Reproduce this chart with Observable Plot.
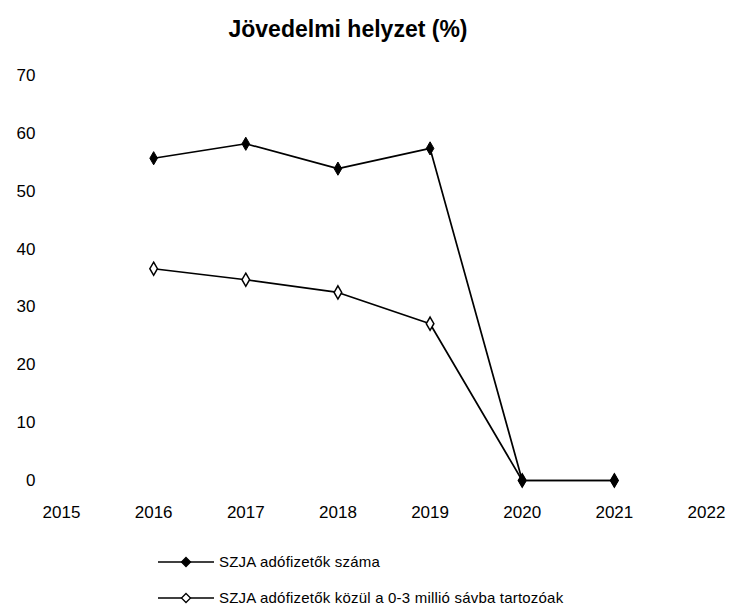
<!DOCTYPE html>
<html><head><meta charset="utf-8">
<script src="https://cdn.jsdelivr.net/npm/d3@7"></script>
<script src="https://cdn.jsdelivr.net/npm/@observablehq/plot@0.6"></script>
<style>
body{margin:0;background:#fff;font-family:"Liberation Sans",Arial,sans-serif;width:732px;height:605px;position:relative;overflow:hidden;color:#000}
#title{position:absolute;top:16px;left:0;width:696px;text-align:center;font-size:23px;font-weight:bold;line-height:26px}
#chart{position:absolute;top:50px;left:0}
.leg{position:absolute;left:158px;display:flex;align-items:center;font-size:15px;letter-spacing:0.2px;white-space:nowrap}
.leg svg{margin-right:5px}
</style></head><body>
<div id="title">Jövedelmi helyzet (%)</div>
<div id="chart"></div>
<div id="legend"></div>
<script>
const years = [2016, 2017, 2018, 2019, 2020, 2021];
const seriesNames = ["SZJA adófizetők száma", "SZJA adófizetők közül a 0-3 millió sávba tartozóak"];
const series1 = [55.7, 58.2, 53.9, 57.4, 0, 0];
const series2 = [36.6, 34.7, 32.5, 27.1, 0, 0];
const xTicks = [2015, 2016, 2017, 2018, 2019, 2020, 2021, 2022];
const yTicks = [0, 10, 20, 30, 40, 50, 60, 70];

const d1 = years.map((y, i) => ({year: y, value: series1[i], series: seriesNames[0]}));
const d2 = years.map((y, i) => ({year: y, value: series2[i], series: seriesNames[1]}));

const chart = Plot.plot({
  width: 732,
  height: 480,
  marginTop: 25,
  marginBottom: 50,
  marginLeft: 61,
  marginRight: 26,
  style: {fontFamily: "Liberation Sans, Arial, sans-serif", fontSize: "17px", color: "#000", background: "transparent"},
  x: {domain: [2015, 2022], ticks: xTicks, tickFormat: d => String(d), tickSize: 0, tickPadding: 25, label: null},
  y: {domain: [0, 70], ticks: yTicks, tickSize: 0, tickPadding: 26, label: null},
  marks: [
    Plot.line(d2, {x: "year", y: "value", stroke: "#000", strokeWidth: 1.7}),
    Plot.line(d1, {x: "year", y: "value", stroke: "#000", strokeWidth: 1.7}),
    Plot.dot(d2, {x: "year", y: "value", symbol: "diamond", r: 4, fill: "#fff", stroke: "#000", strokeWidth: 1.5}),
    Plot.dot(d1, {x: "year", y: "value", symbol: "diamond", r: 4, fill: "#000", stroke: "#000", strokeWidth: 1})
  ]
});
document.getElementById("chart").appendChild(chart);

const legend = document.getElementById("legend");
const legTops = [553, 589];
seriesNames.forEach((name, i) => {
  const row = document.createElement("div");
  row.className = "leg";
  row.style.top = legTops[i] + "px";
  const fill = i === 0 ? "#000" : "#fff";
  row.innerHTML = `<svg width="56" height="16"><line x1="0" y1="8" x2="56" y2="8" stroke="#000" stroke-width="1.7"/><path d="M28,3.5 L32.5,8 L28,12.5 L23.5,8 Z" fill="${fill}" stroke="#000" stroke-width="1.3"/></svg><span>${name}</span>`;
  legend.appendChild(row);
});
</script>
</body></html>
